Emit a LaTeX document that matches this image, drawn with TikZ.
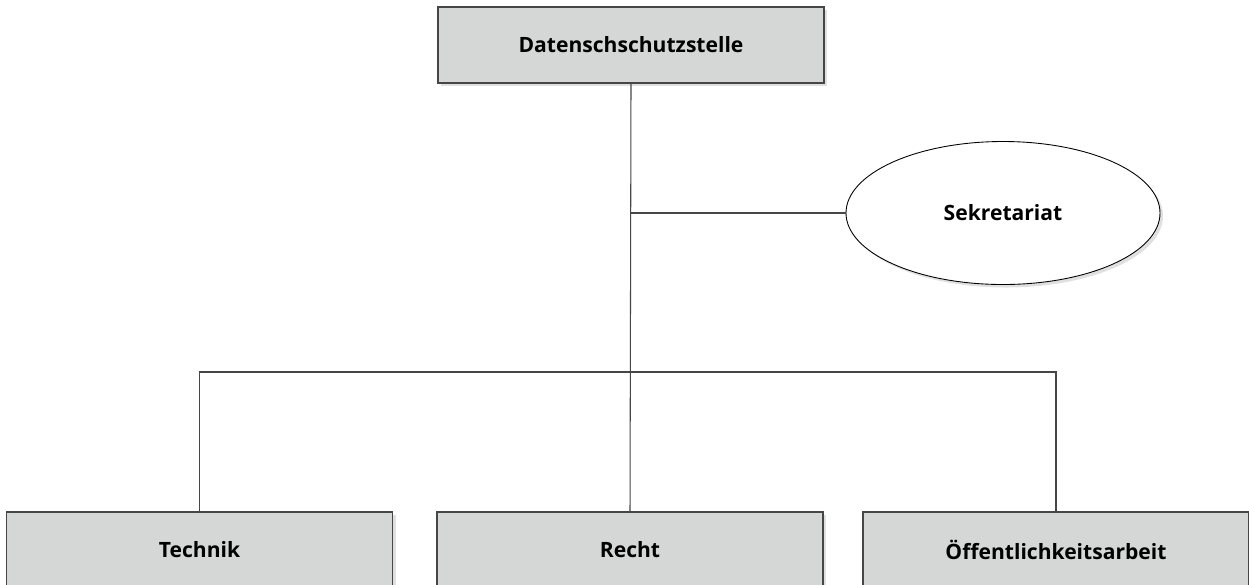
\documentclass[tikz,border=0pt]{standalone}
\usepackage{fontspec}
\setmainfont{Open Sans}
\usetikzlibrary{shapes.geometric,shadows}
\definecolor{boxgray}{RGB}{213,214,214}
\definecolor{linegray}{RGB}{70,70,70}
\tikzset{
  unitbox/.style={draw=linegray,fill=boxgray,line width=0.6pt,minimum width=7.72cm,minimum height=1.52cm,
    inner sep=0pt,font=\fontsize{12}{14}\selectfont\bfseries,
    drop shadow={shadow xshift=0.06cm,shadow yshift=-0.06cm,opacity=0.12,fill=black}},
  staffbox/.style={ellipse,draw=black,fill=white,line width=0.5pt,minimum width=6.28cm,minimum height=2.86cm,
    inner sep=0pt,font=\fontsize{12}{14}\selectfont\bfseries,
    drop shadow={shadow xshift=0.06cm,shadow yshift=-0.06cm,opacity=0.12,fill=black}},
  link/.style={draw=linegray,line width=0.6pt}
}
\begin{document}
\begin{tikzpicture}
\clip (0,0) rectangle (24.98,-11.68);
\fill[white] (0,0) rectangle (24.98,-11.68);
% Leitung oben
\node[unitbox] (dsb) at (12.62,-0.90) {Datenschschutzstelle};
% Stabsstelle
\node[staffbox] (sek) at (20.06,-4.26) {Sekretariat};
% Referate
\node[unitbox] (technik) at (3.99,-11.00) {Technik};
\node[unitbox] (recht) at (12.60,-11.00) {Recht};
\node[unitbox] (oeff) at (21.12,-11.00) {Öffentlichkeitsarbeit};
\coordinate (fork) at (12.64,-7.44);
\draw[link] (dsb.south) -- (recht.north);
\draw[link] (dsb.south |- sek.west) -- (sek.west);
\draw[link] (technik.north) |- (fork) -| (oeff.north);
\end{tikzpicture}
\end{document}
